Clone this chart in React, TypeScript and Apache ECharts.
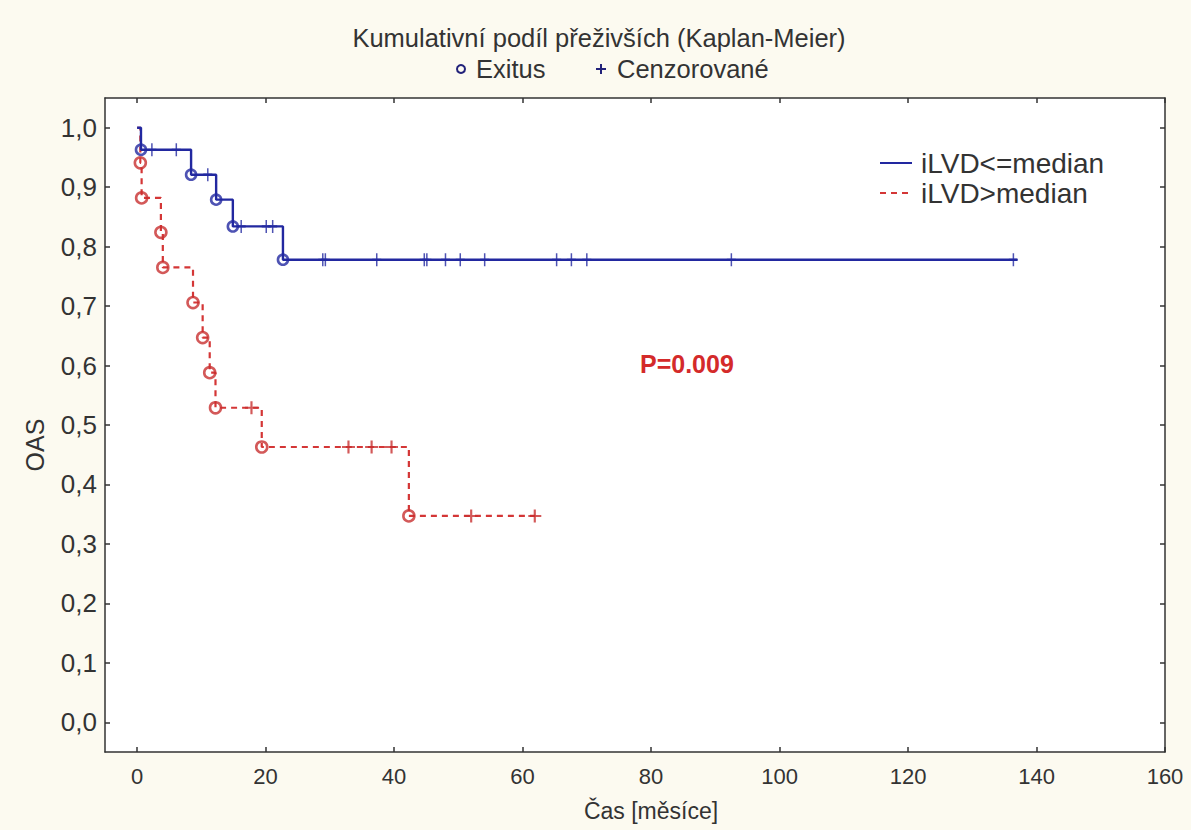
import React, { useEffect, useRef } from "react";
import * as echarts from "echarts";

// ---- data ----
const blueEventTimes = [0, 0.6, 8.4, 12.3, 14.9, 22.7];
const blueEventSurv = [1, 0.963, 0.921, 0.879, 0.834, 0.778];
const blueEndTime = 137;
const blueCensorTimes = [2.3, 6.1, 11.0, 16.2, 20.1, 21.1, 28.9, 29.3, 37.3, 44.7, 45.1, 48.0, 50.3, 54.1, 65.3, 67.6, 70.0, 92.5, 136.4];

const redEventTimes = [0, 0.5, 0.7, 3.7, 4.0, 8.7, 10.2, 11.3, 12.2, 19.4, 42.3];
const redEventSurv = [1, 0.941, 0.882, 0.824, 0.765, 0.706, 0.647, 0.588, 0.529, 0.463, 0.347];
const redEndTime = 62.0;
const redCensorTimes = [17.8, 32.9, 36.5, 39.6, 52.0, 61.9];

const xTicks = [0, 20, 40, 60, 80, 100, 120, 140, 160];
const yTicks = [0, 0.1, 0.2, 0.3, 0.4, 0.5, 0.6, 0.7, 0.8, 0.9, 1.0];

const seriesNames = ["iLVD<=median", "iLVD>median"];
const markerNames = ["Exitus", "Cenzorované"];
const titleText = "Kumulativní podíl přeživších (Kaplan-Meier)";
const xName = "Čas [měsíce]";
const yName = "OAS";
const pText = "P=0.009";

const BLUE = "#2228a0";
const RED = "#d43636";
const NAVY = "#22227a";
const TXT = "#333333";
const FONT = "'Liberation Sans', Arial, sans-serif";

const PLUS = "path://M-1,-6L1,-6L1,-1L6,-1L6,1L1,1L1,6L-1,6L-1,1L-6,1L-6,-1L-1,-1Z";

function survAt(times: number[], surv: number[], t: number) {
  let s = surv[0];
  for (let i = 0; i < times.length; i++) if (times[i] <= t) s = surv[i];
  return s;
}

function curve(times: number[], surv: number[], end: number) {
  const d = times.map((t, i) => [t, surv[i]]);
  d.push([end, surv[surv.length - 1]]);
  return d;
}

export default function App() {
  const ref = useRef<HTMLDivElement>(null);
  useEffect(() => {
    if (!ref.current) return;
    const chart = echarts.init(ref.current, null, { renderer: "svg" });
    const axisLine = { show: true, onZero: false, lineStyle: { color: "#333", width: 1.5 } };
    const tickStyle = { show: true, inside: true, length: 5, lineStyle: { color: "#333", width: 1.5 } };
    const option: any = {
      animation: false,
      backgroundColor: "#fcfaf0",
      grid: { left: 105, top: 98, width: 1060, height: 654, show: true, backgroundColor: "#ffffff", borderWidth: 0 },
      xAxis: [
        {
          type: "value", min: -5, max: 160, position: "bottom",
          axisLine, splitLine: { show: false },
          axisTick: { ...tickStyle, customValues: xTicks },
          axisLabel: { customValues: xTicks, color: TXT, fontSize: 22, fontFamily: FONT, margin: 13 },
        },
        {
          type: "value", min: -5, max: 160, position: "top",
          axisLine, splitLine: { show: false },
          axisTick: { ...tickStyle, customValues: xTicks },
          axisLabel: { show: false },
        },
      ],
      yAxis: [
        {
          type: "value", min: -0.05, max: 1.05, position: "left",
          axisLine, splitLine: { show: false },
          axisTick: { ...tickStyle, customValues: yTicks },
          axisLabel: {
            customValues: yTicks, color: TXT, fontSize: 26, fontFamily: FONT, margin: 8,
            formatter: (v: number) => v.toFixed(1).replace(".", ","),
          },
        },
        {
          type: "value", min: -0.05, max: 1.05, position: "right",
          axisLine, splitLine: { show: false },
          axisTick: { ...tickStyle, customValues: yTicks },
          axisLabel: { show: false },
        },
      ],
      series: [
        {
          name: seriesNames[0], type: "line", step: "end", showSymbol: false,
          data: curve(blueEventTimes, blueEventSurv, blueEndTime),
          lineStyle: { color: BLUE, width: 2.4 }, z: 3,
        },
        {
          name: seriesNames[1], type: "line", step: "end", showSymbol: false,
          data: curve(redEventTimes, redEventSurv, redEndTime),
          lineStyle: { color: RED, width: 2.2, type: [6, 5] }, z: 2,
        },
        {
          name: markerNames[0] + " 1", type: "scatter", symbol: "circle", symbolSize: 10,
          data: blueEventTimes.slice(1).map((t, i) => [t, blueEventSurv[i + 1]]),
          itemStyle: { color: "rgba(255,255,255,0)", borderColor: BLUE, borderWidth: 2.6 }, z: 5,
        },
        {
          name: markerNames[1] + " 1", type: "scatter", symbol: PLUS, symbolSize: [9, 13],
          data: blueCensorTimes.map((t) => [t, survAt(blueEventTimes, blueEventSurv, t)]),
          itemStyle: { color: BLUE }, z: 5,
        },
        {
          name: markerNames[0] + " 2", type: "scatter", symbol: "circle", symbolSize: 11,
          data: redEventTimes.slice(1).map((t, i) => [t, redEventSurv[i + 1]]),
          itemStyle: { color: "rgba(255,255,255,0)", borderColor: "#c83030", borderWidth: 2.6 }, z: 4,
        },
        {
          name: markerNames[1] + " 2", type: "scatter", symbol: PLUS, symbolSize: [13, 13],
          data: redCensorTimes.map((t) => [t, survAt(redEventTimes, redEventSurv, t)]),
          itemStyle: { color: "#c83030" }, z: 4,
        },
      ],
      graphic: [
        { type: "text", x: 599, y: 38, style: { text: titleText, fill: TXT, font: `25.5px ${FONT}`, align: "center", verticalAlign: "middle" } },
        { type: "circle", shape: { cx: 461, cy: 69, r: 4 }, style: { fill: "none", stroke: NAVY, lineWidth: 2 } },
        { type: "text", x: 476, y: 69, style: { text: markerNames[0], fill: TXT, font: `25.5px ${FONT}`, align: "left", verticalAlign: "middle" } },
        { type: "line", shape: { x1: 596, y1: 69, x2: 606, y2: 69 }, style: { stroke: NAVY, lineWidth: 2 } },
        { type: "line", shape: { x1: 601, y1: 64, x2: 601, y2: 74 }, style: { stroke: NAVY, lineWidth: 2 } },
        { type: "text", x: 617, y: 69, style: { text: markerNames[1], fill: TXT, font: `25.5px ${FONT}`, align: "left", verticalAlign: "middle" } },
        { type: "line", shape: { x1: 880, y1: 163, x2: 912, y2: 163 }, style: { stroke: BLUE, lineWidth: 2 } },
        { type: "text", x: 921, y: 163, style: { text: seriesNames[0], fill: TXT, font: `28px ${FONT}`, align: "left", verticalAlign: "middle" } },
        { type: "line", shape: { x1: 880, y1: 193, x2: 912, y2: 193 }, style: { stroke: RED, lineWidth: 2, lineDash: [6, 5] } },
        { type: "text", x: 921, y: 193, style: { text: seriesNames[1], fill: TXT, font: `28px ${FONT}`, align: "left", verticalAlign: "middle" } },
        { type: "text", x: 640, y: 364, style: { text: pText, fill: "#d42a2a", font: `bold 25px ${FONT}`, align: "left", verticalAlign: "middle" } },
        { type: "text", x: 651, y: 811, style: { text: xName, fill: TXT, font: `23px ${FONT}`, align: "center", verticalAlign: "middle" } },
        { type: "text", x: 35, y: 445, rotation: Math.PI / 2, style: { text: yName, fill: TXT, font: `25px ${FONT}`, align: "center", verticalAlign: "middle" } },
      ],
    };
    chart.setOption(option);
    return () => chart.dispose();
  }, []);
  return <div ref={ref} style={{ position: "fixed", left: 0, top: 0, width: 1191, height: 830 }} />;
}
